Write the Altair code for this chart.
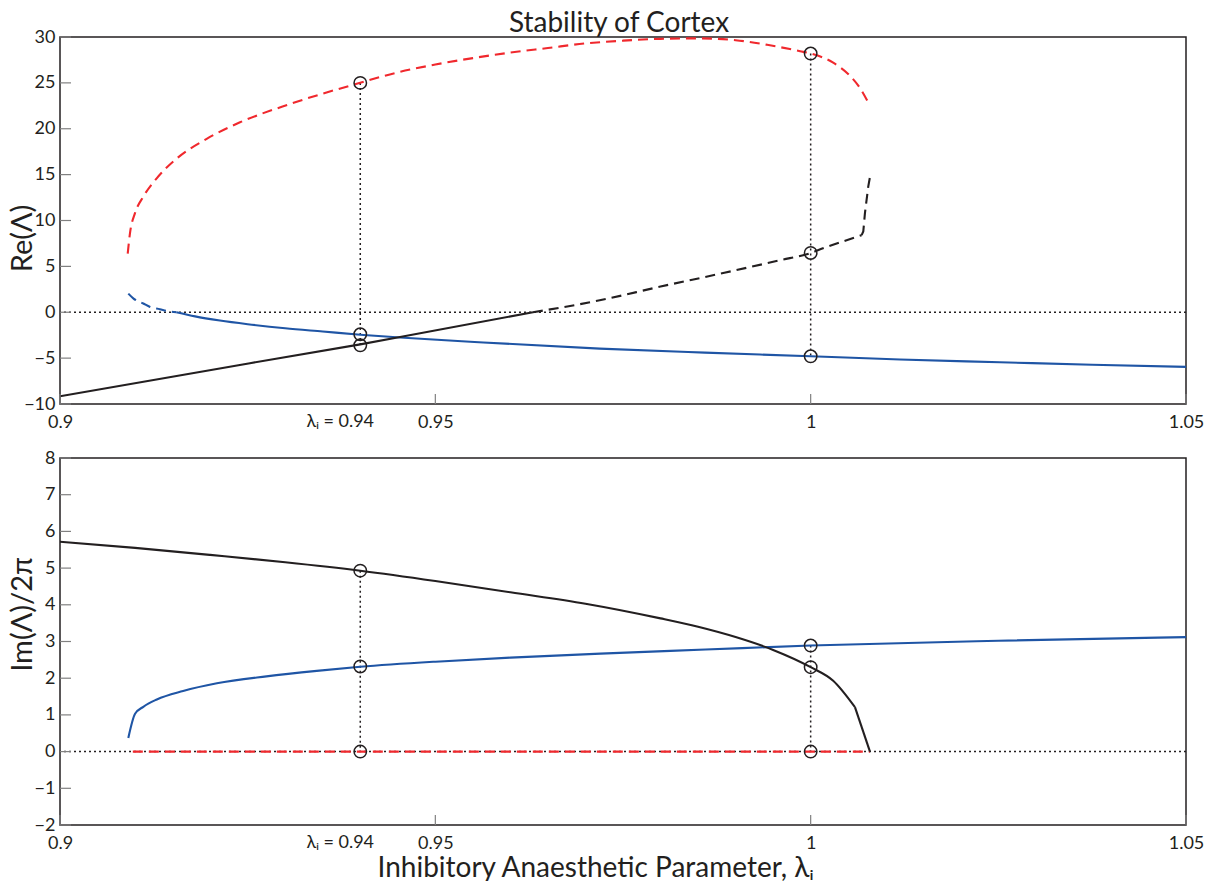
import altair as alt
import pandas as pd

# ---------------- data ----------------
# Top panel: Re(Lambda)
re_red_x = [0.90902, 0.90932, 0.90999, 0.9111, 0.91288, 0.91554, 0.91954, 0.92398, 0.93064,
            0.93952, 0.94529, 0.95, 0.955, 0.96, 0.965, 0.97, 0.975, 0.98, 0.985, 0.99,
            0.9942, 0.9986, 1.0, 1.003, 1.0052, 1.0066, 1.00777]
re_red_y = [6.4, 8.6, 10.8, 12.6, 14.6, 16.75, 18.9, 20.7, 22.7, 24.9, 26.2, 27.0, 27.7, 28.3,
            28.8, 29.3, 29.6, 29.8, 29.85, 29.65, 29.15, 28.45, 28.2, 27.2, 25.8, 24.4, 22.7]

re_blue_dash_x = [0.9091, 0.9098, 0.9111, 0.912, 0.9133, 0.9144, 0.9155]
re_blue_dash_y = [2.03, 1.49, 0.95, 0.58, 0.33, 0.11, 0.0]
re_blue_x = [0.9155, 0.918, 0.9213, 0.925, 0.93, 0.935, 0.94, 0.9453, 0.9564, 0.9719, 0.9859,
             1.0, 1.0119, 1.0252, 1.0375, 1.05]
re_blue_y = [0.0, -0.45, -0.9, -1.3, -1.75, -2.1, -2.45, -2.76, -3.3, -3.96, -4.4, -4.8,
             -5.15, -5.45, -5.72, -5.95]

re_black_x = [0.9, 0.9253, 0.94, 0.9453, 0.963]
re_black_y = [-9.16, -5.55, -3.5, -2.7, 0.0]
re_black_dash_x = [0.963, 0.9719, 0.98, 0.9885, 0.9959, 1.0, 1.00164, 1.00479, 1.00679]
re_black_dash_y = [0.0, 1.3, 2.8, 4.3, 5.67, 6.46, 6.97, 7.85, 8.4]
re_black_kink_x = [1.00679, 1.00701, 1.00723, 1.00767, 1.0079]
re_black_kink_y = [8.4, 8.8, 10.8, 13.7, 14.75]

re_mark_x = [0.94, 0.94, 0.94, 1.0, 1.0, 1.0]
re_mark_y = [25.0, -2.4, -3.6, 28.2, 6.46, -4.8]
re_drop_x = [0.94, 1.0]
re_drop_top = [25.0, 28.2]
re_drop_bottom = [-3.6, -4.8]

# Bottom panel: Im(Lambda)/2pi
im_black_x = [0.9, 0.91, 0.92, 0.93, 0.94, 0.95, 0.96, 0.97, 0.98, 0.985, 0.99, 0.995,
              1.0, 1.003, 1.0059]
im_black_y = [5.72, 5.55, 5.36, 5.16, 4.93, 4.65, 4.34, 4.03, 3.63, 3.40, 3.12, 2.77,
              2.30, 1.93, 1.21]
im_black_kink_x = [1.0059, 1.0079]
im_black_kink_y = [1.21, 0.0]

im_blue_x = [0.9091, 0.91, 0.9111, 0.9129, 0.9164, 0.9209, 0.9275, 0.9342, 0.94, 0.95,
             0.96, 0.972, 0.986, 1.0, 1.025, 1.05]
im_blue_y = [0.37, 1.03, 1.22, 1.42, 1.65, 1.86, 2.05, 2.2, 2.31, 2.45, 2.56, 2.67, 2.78,
             2.89, 3.02, 3.12]

im_red_x = [0.9097, 1.0079]
im_red_y = [0.0, 0.0]

im_mark_x = [0.94, 0.94, 0.94, 1.0, 1.0, 1.0]
im_mark_y = [4.93, 2.32, 0.0, 2.89, 2.30, 0.0]
im_drop_x = [0.94, 1.0]
im_drop_top = [4.93, 2.89]
im_drop_bottom = [0.0, 0.0]

x_ticks = [0.9, 0.95, 1.0, 1.05]
re_y_ticks = [-10, -5, 0, 5, 10, 15, 20, 25, 30]
im_y_ticks = [-2, -1, 0, 1, 2, 3, 4, 5, 6, 7, 8]
lambda_label = "λᵢ = 0.94"
main_title = "Stability of Cortex"

# ---------------- style ----------------
W, H = 1126, 367
FONT = "Lato"
INK = "#231f20"
RED = "#f0282d"
BLUE = "#1f55a5"
DASH = [10, 6]
DOT = [2, 3]
LBL = 18
LPAD = 9


def panel(y_domain, y_ticks, y_title, title_y, x_title, lines, marks, drops, title=None):
    X = alt.X("x:Q", scale=alt.Scale(domain=[0.9, 1.05], nice=False, zero=False),
              axis=alt.Axis(values=x_ticks, format="~g", ticks=False, domain=False, grid=False,
                            labelFont=FONT, labelFontSize=LBL, labelColor=INK, labelPadding=LPAD,
                            labelFlush=False,
                            title=x_title if x_title else None,
                            titleFont=FONT, titleFontSize=28, titleFontWeight="normal",
                            titleColor=INK, titleBaseline="alphabetic", titleY=51,
                            titleX=W / 2 - 28, titleAlign="center"))
    Y = alt.Y("y:Q", scale=alt.Scale(domain=y_domain, nice=False, zero=False),
              axis=alt.Axis(values=y_ticks, ticks=False, domain=False, grid=False,
                            labelFont=FONT, labelFontSize=LBL, labelColor=INK, labelPadding=5,
                            title=y_title, titleFont=FONT, titleFontSize=29,
                            titleFontWeight="normal", titleColor=INK, titleAngle=270,
                            titleBaseline="alphabetic", titleX=-29, titleY=title_y,
                            titleAlign="center"))

    def line(xs, ys, color, dash=None, interp="monotone"):
        df = pd.DataFrame({"x": xs, "y": ys, "i": list(range(len(xs)))})
        kw = dict(color=color, strokeWidth=2.1, interpolate=interp, clip=True)
        if dash:
            kw["strokeDash"] = dash
        return alt.Chart(df).mark_line(**kw).encode(x=X, y=Y, order="i:Q")

    layers = []
    # zero reference (dotted)
    layers.append(alt.Chart(pd.DataFrame({"y": [0]})).mark_rule(
        color=INK, strokeWidth=1.5, strokeDash=DOT).encode(y=Y))
    # drop lines (dotted)
    dx_, dt_, db_ = drops
    layers.append(alt.Chart(pd.DataFrame({"x": dx_, "y": dt_, "y2": db_})).mark_rule(
        color=INK, strokeWidth=1.5, strokeDash=DOT).encode(x=X, y=Y, y2="y2:Q"))
    for xs, ys, color, dash, interp in lines:
        layers.append(line(xs, ys, color, dash, interp))
    # circles
    mx, my = marks
    layers.append(alt.Chart(pd.DataFrame({"x": mx, "y": my})).mark_point(
        shape="circle", filled=False, size=155, color=INK, strokeWidth=1.5, opacity=1).encode(x=X, y=Y))
    # inward tick marks
    layers.append(alt.Chart(pd.DataFrame({"x": x_ticks})).mark_rule(
        color="#808080", strokeWidth=1.2).encode(x=X, y=alt.value(H), y2=alt.value(H - 10)))
    layers.append(alt.Chart(pd.DataFrame({"y": y_ticks})).mark_rule(
        color="#808080", strokeWidth=1.2).encode(y=Y, x=alt.value(0), x2=alt.value(11)))
    # lambda label at 0.94
    layers.append(alt.Chart(pd.DataFrame({"x": [0.94]})).mark_text(
        text=lambda_label, font=FONT, fontSize=LBL, color=INK, baseline="top", dx=-20).encode(
        x=X, y=alt.value(H + LPAD)))
    if title:
        layers.append(alt.Chart(pd.DataFrame({"t": [title]})).mark_text(
            font=FONT, fontSize=28, color=INK, baseline="alphabetic", align="center").encode(
            text="t:N", x=alt.value(W / 2 - 4), y=alt.value(-5)))

    return alt.layer(*layers).properties(width=W, height=H)


top = panel([-10, 30], re_y_ticks, "Re(Λ)", 201, None,
            lines=[(re_red_x, re_red_y, RED, DASH, "monotone"),
                   (re_blue_dash_x, re_blue_dash_y, BLUE, DASH, "monotone"),
                   (re_blue_x, re_blue_y, BLUE, None, "monotone"),
                   (re_black_x, re_black_y, INK, None, "linear"),
                   (re_black_dash_x, re_black_dash_y, INK, DASH, "monotone"),
                   (re_black_kink_x, re_black_kink_y, INK, DASH, "linear")],
            marks=(re_mark_x, re_mark_y),
            drops=(re_drop_x, re_drop_top, re_drop_bottom),
            title=main_title)

bottom = panel([-2, 8], im_y_ticks, "Im(Λ)/2π", 156,
               "Inhibitory Anaesthetic Parameter, λᵢ",
               lines=[(im_red_x, im_red_y, RED, DASH, "linear"),
                      (im_blue_x, im_blue_y, BLUE, None, "monotone"),
                      (im_black_x, im_black_y, INK, None, "monotone"),
                      (im_black_kink_x, im_black_kink_y, INK, None, "linear")],
               marks=(im_mark_x, im_mark_y),
               drops=(im_drop_x, im_drop_top, im_drop_bottom))

chart = alt.vconcat(top, bottom, spacing=16).configure_view(
    stroke=INK, strokeWidth=1.5).properties(
    background="white", padding={"left": 7, "top": 9, "right": 5, "bottom": 5})

chart.save("out.html", embed_options={"renderer": "svg", "actions": False})
